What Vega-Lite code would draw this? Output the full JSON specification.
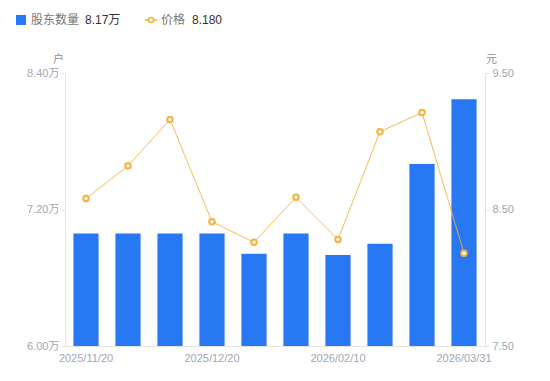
{
  "$schema": "https://vega.github.io/schema/vega-lite/v6.json",
  "width": 420,
  "height": 273,
  "autosize": {"type": "none"},
  "padding": {"left": 65, "top": 73, "right": 65, "bottom": 35},
  "config": {
    "view": {"stroke": null},
    "font": "Liberation Sans, Noto Sans CJK SC",
    "axis": {"labelFont": "Liberation Sans, Noto Sans CJK SC", "labelColor": "#a3a6b4", "labelFontSize": 11, "titleFont": "Noto Sans CJK SC", "titleColor": "#8c8f9c", "titleFontSize": 11, "titleFontWeight": "normal", "domainColor": "#e3e3e3", "tickColor": "#e3e3e3", "grid": false},
    "legend": {"labelFont": "Noto Sans CJK SC, Liberation Sans", "labelFontSize": 12}
  },
  "data": {"values": [
    {"date": "2025/11/20", "holders": 6.99, "price": 8.58},
    {"date": "2025/11/30", "holders": 6.99, "price": 8.82},
    {"date": "2025/12/10", "holders": 6.99, "price": 9.16},
    {"date": "2025/12/20", "holders": 6.99, "price": 8.41},
    {"date": "2025/12/31", "holders": 6.81, "price": 8.26},
    {"date": "2026/01/20", "holders": 6.99, "price": 8.59},
    {"date": "2026/02/10", "holders": 6.80, "price": 8.28},
    {"date": "2026/02/28", "holders": 6.90, "price": 9.07},
    {"date": "2026/03/10", "holders": 7.60, "price": 9.21},
    {"date": "2026/03/31", "holders": 8.17, "price": 8.18}
  ]},
  "encoding": {
    "x": {"field": "date", "type": "ordinal", "sort": null,
      "scale": {"paddingInner": 0.4, "paddingOuter": 0.2},
      "axis": {"title": null, "labelAngle": 0, "ticks": false, "labelPadding": 6,
        "labelExpr": "indexof(['2025/11/20','2025/12/20','2026/02/10','2026/03/31'], datum.value) >= 0 ? datum.value : ''"}}
  },
  "layer": [
    {
      "mark": {"type": "bar", "clip": true},
      "encoding": {
        "y": {"field": "holders", "type": "quantitative", "scale": {"domain": [6, 8.4], "zero": false, "nice": false},
          "axis": {"values": [6, 7.2, 8.4], "labelExpr": "format(datum.value, '.2f') + '万'", "tickSize": 4, "labelPadding": 2,
            "title": "户", "titleAngle": 0, "titleX": -7, "titleY": -14, "titleAlign": "center", "titleBaseline": "middle"}},
        "fill": {"datum": "股东数量", "type": "nominal", "scale": {"range": ["#2878f4"]},
          "legend": {"orient": "none", "legendX": -50, "legendY": -59, "title": null, "symbolType": "square", "symbolSize": 100, "labelColor": "#777", "labelFontSize": 12, "symbolStrokeWidth": 0}},
        "opacity": {"datum": "8.17万", "type": "ordinal", "scale": {"range": [1]},
          "legend": {"orient": "none", "legendX": 8, "legendY": -59, "title": null, "symbolOpacity": 0, "symbolSize": 0, "labelOffset": 0, "labelColor": "#333", "labelFontSize": 12, "labelFont": "Liberation Sans, Noto Sans CJK SC"}}
      }
    },
    {
      "mark": {"type": "line", "color": "#f7b03c", "strokeWidth": 1},
      "encoding": {
        "y": {"field": "price", "type": "quantitative", "scale": {"domain": [7.5, 9.5], "zero": false, "nice": false},
          "axis": {"orient": "right", "values": [7.5, 8.5, 9.5], "format": ".2f", "tickSize": 4, "labelPadding": 3,
            "title": "元", "titleAngle": 0, "titleX": 6, "titleY": -14, "titleAlign": "center", "titleBaseline": "middle"}},
        "strokeDash": {"datum": "8.180", "type": "nominal", "scale": {"range": [[1, 0]]},
          "legend": {"orient": "none", "legendX": 115, "legendY": -59, "title": null, "symbolOpacity": 0, "symbolStrokeWidth": 0, "symbolSize": 0, "labelOffset": 0, "labelColor": "#333", "labelFontSize": 12, "labelFont": "Liberation Sans, Noto Sans CJK SC"}}
      }
    },
    {
      "mark": {"type": "point", "filled": false, "fill": "#ffffff", "strokeWidth": 2, "size": 30, "opacity": 1},
      "encoding": {
        "y": {"field": "price", "type": "quantitative", "scale": {"domain": [7.5, 9.5], "zero": false, "nice": false}, "axis": null},
        "stroke": {"datum": "价格", "type": "nominal", "scale": {"range": ["#f7b03c"]},
          "legend": {"orient": "none", "legendX": 80, "legendY": -59, "title": null, "symbolType": "M-2,0H-0.8M0.8,0H2M0.8,0A0.8,0.8 0 1,1 -0.8,0A0.8,0.8 0 1,1 0.8,0", "symbolSize": 40, "symbolStrokeWidth": 1.5, "symbolFillColor": "#ffffff", "labelColor": "#777", "labelFontSize": 12}}
      }
    }
  ],
  "resolve": {"scale": {"y": "independent"}}
}
